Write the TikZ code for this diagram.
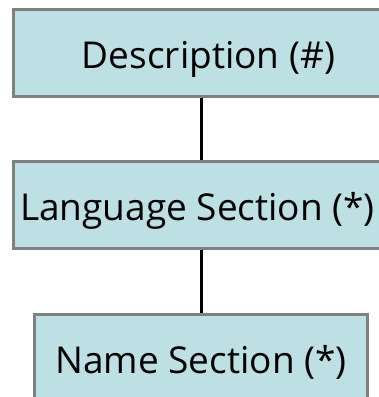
\documentclass[tikz,border=0pt]{standalone}
\usepackage{fontspec}
\setmainfont{Open Sans}
\definecolor{boxfill}{HTML}{BCE0E4}
\definecolor{boxline}{HTML}{808080}
\tikzset{
  x=1pt, y=1pt,
  entity/.style={draw=boxline, line width=3pt, fill=boxfill, rectangle, inner sep=0pt,
    minimum height=87pt, text height=32pt, text depth=0pt,
    font=\fontsize{37}{40}\selectfont, text=black},
  link/.style={draw=black, line width=3pt}
}
\begin{document}
\begin{tikzpicture}
\clip (0,0) rectangle (379,-397);
\node[entity, minimum width=390pt] (top) at (208.5,-52.5) {Description (\#)};
\node[entity, minimum width=369pt] (mid) at (197.5,-204.5) {Language Section (*)};
\node[entity, minimum width=333pt] (bot) at (201,-357.5) {Name Section (*)};
\draw[link] (top.south -| bot.north) -- (mid.north -| bot.north);
\draw[link] (mid.south -| bot.north) -- (bot.north);
\end{tikzpicture}
\end{document}
